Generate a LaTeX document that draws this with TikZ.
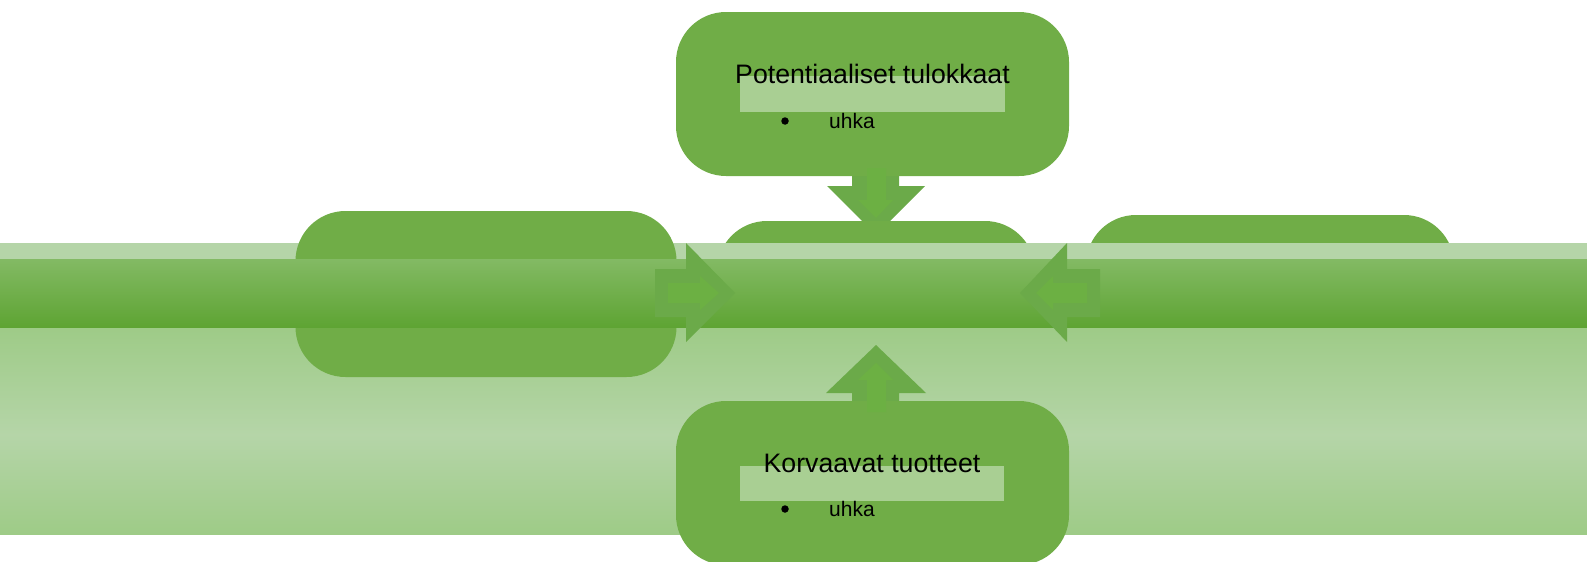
\documentclass[tikz,border=0pt]{standalone}
\usepackage{fontspec}
\setmainfont{Liberation Sans}
\definecolor{boxg}{HTML}{70AD47}
\definecolor{lightband}{HTML}{B5D5A8}
\definecolor{bandlow}{HTML}{9ECB87}
\definecolor{darktop}{HTML}{83BA64}
\definecolor{darkmid}{HTML}{6DB33F}
\definecolor{darkbot}{HTML}{5EA433}
\definecolor{arrowout}{HTML}{6BAA49}
\definecolor{arrowin}{HTML}{6CB043}
\definecolor{innerrect}{HTML}{A9CF93}
\tikzset{
  boxnode/.style={fill=boxg, draw=none, rounded corners=50pt, inner sep=0pt},
  outerarrow/.style={fill=arrowout, draw=none},
  innerarrow/.style={fill=arrowin, draw=none},
  titletext/.style={anchor=base, inner sep=0pt, font=\fontsize{26.7}{32}\selectfont},
  itemtext/.style={anchor=base west, inner sep=0pt, font=\fontsize{21}{25}\selectfont},
  bulletdot/.style={circle, fill=black, inner sep=0pt, minimum size=7.5pt},
  lightrect/.style={fill=innerrect, draw=none, inner sep=0pt}
}
\begin{document}
\begin{tikzpicture}[x=1pt,y=-1pt]
\useasboundingbox (0,0) rectangle (1587,562);
% down arrow outer (under the centre box)
\fill[outerarrow] (852,150) -- (899,150) -- (899,186) -- (925,186) -- (876,235) -- (827,186) -- (852,186) -- cycle;
% hidden boxes
\node[boxnode, minimum width=318pt, minimum height=166pt] (mid) at (876,304) {};
\node[boxnode, minimum width=368pt, minimum height=166pt] (right) at (1270,298) {};
% light band
\fill[lightband] (0,243) rectangle (1587,327);
\shade[top color=bandlow, bottom color=lightband] (0,327) rectangle (1587,435);
\shade[top color=lightband, bottom color=bandlow] (0,434.5) rectangle (1587,534);
% left box
\node[boxnode, minimum width=381pt, minimum height=166pt] (left) at (486,294) {};
% dark band
\shade[top color=darktop, middle color=darkmid, bottom color=darkbot] (0,259) rectangle (1587,327);
% left arrow (pointing right)
\fill[outerarrow] (655,269) -- (686,269) -- (686,243) -- (735,293) -- (686,342) -- (686,317) -- (655,317) -- cycle;
\fill[innerarrow] (668,283) -- (700,283) -- (700,276) -- (719,293) -- (700,310) -- (700,303) -- (668,303) -- cycle;
% right arrow (pointing left)
\fill[outerarrow] (1100,269) -- (1067,269) -- (1067,243) -- (1020,293) -- (1067,342) -- (1067,317) -- (1100,317) -- cycle;
\fill[innerarrow] (1087,283) -- (1053,283) -- (1053,276) -- (1036,293) -- (1053,310) -- (1053,303) -- (1087,303) -- cycle;
% up arrow outer
\fill[outerarrow] (852,420) -- (899,420) -- (899,393) -- (926,393) -- (876,345) -- (826,393) -- (852,393) -- cycle;
% top and bottom boxes
\node[boxnode, minimum width=393pt, minimum height=164pt] (top) at (872.5,94) {};
\node[boxnode, minimum width=393pt, minimum height=164pt] (bottom) at (872.5,483) {};
% inner arrows of the vertical arrows
\fill[innerarrow] (867,168) -- (886,168) -- (886,200) -- (893,200) -- (876,218) -- (858,200) -- (867,200) -- cycle;
\fill[innerarrow] (867,412) -- (886,412) -- (886,380) -- (893,380) -- (876,363) -- (858,380) -- (867,380) -- cycle;
% light rectangles inside the boxes
\node[lightrect, minimum width=265pt, minimum height=36pt] (toprect) at (872.5,94) {};
\node[lightrect, minimum width=264pt, minimum height=35pt] (botrect) at (872,483.5) {};
% texts
\node[titletext] (toptitle) at (872.5,83) {Potentiaaliset tulokkaat};
\node[bulletdot] (topbullet) at (785,121) {};
\node[itemtext] (topitem) at (829,128) {uhka};
\node[titletext] (bottitle) at (872,472) {Korvaavat tuotteet};
\node[bulletdot] (botbullet) at (785,509) {};
\node[itemtext] (botitem) at (829,516) {uhka};
\end{tikzpicture}
\end{document}
